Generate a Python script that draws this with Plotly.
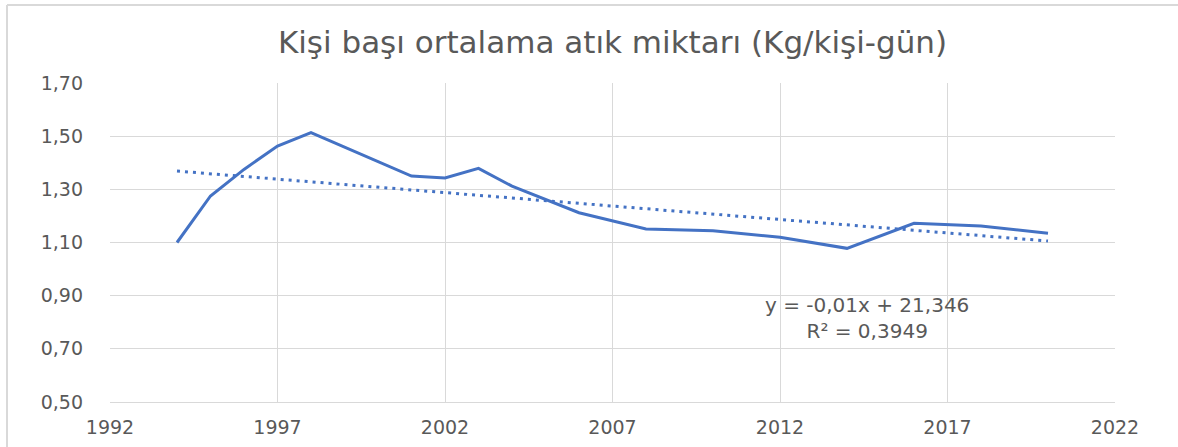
import numpy as np
import plotly.graph_objects as go

# Per-capita municipal waste, kg per person per day
years = [1994, 1995, 1996, 1997, 1998, 2001, 2002, 2003, 2004,
         2006, 2008, 2010, 2012, 2014, 2016, 2018, 2020]
waste = [1.10, 1.275, 1.375, 1.463, 1.513, 1.35, 1.343, 1.379, 1.312,
         1.212, 1.151, 1.144, 1.12, 1.078, 1.172, 1.162, 1.135]

title_text = "Kişi başı ortalama atık miktarı (Kg/kişi-gün)"
equation_text = "y = -0,01x + 21,346<br>R² = 0,3949"

x_ticks = [1992, 1997, 2002, 2007, 2012, 2017, 2022]
y_ticks = [0.50, 0.70, 0.90, 1.10, 1.30, 1.50, 1.70]

BLUE = "#4472C4"
GRID = "#d9d9d9"
TEXT = "#595959"
FONT = "DejaVu Sans"

# Linear trend fitted on the series
slope, intercept = np.polyfit(years, waste, 1)
trend_x = [years[0], years[-1]]
trend_y = [slope * x + intercept for x in trend_x]

fig = go.Figure()
fig.add_trace(go.Scatter(
    x=trend_x, y=trend_y, mode="lines",
    line=dict(color=BLUE, width=3, dash="3px,5px"),
    hoverinfo="skip", showlegend=False,
))
fig.add_trace(go.Scatter(
    x=years, y=waste, mode="lines",
    line=dict(color=BLUE, width=3),
    showlegend=False,
))

fig.add_annotation(
    x=2014.6, y=0.816, xref="x", yref="y",
    text=equation_text, showarrow=False, align="center",
    font=dict(family=FONT, size=20, color=TEXT),
)

# Chart-area frame (top and left edges)
L, R, T, B = 110, 63, 83, 45
W, H = 1178 - L - R, 447 - T - B
fx = lambda px: (px - L) / W
fy = lambda py: (447 - B - py) / H
fig.add_shape(type="line", xref="paper", yref="paper",
              x0=fx(7), x1=fx(1178), y0=fy(5), y1=fy(5),
              line=dict(color=GRID, width=2))
fig.add_shape(type="line", xref="paper", yref="paper",
              x0=fx(7), x1=fx(7), y0=fy(5), y1=fy(447),
              line=dict(color=GRID, width=2))

fig.update_layout(
    width=1178, height=447,
    margin=dict(l=L, r=R, t=T, b=B, autoexpand=False),
    paper_bgcolor="white", plot_bgcolor="white",
    separators=",.",
    title=dict(text=title_text, x=0.5, xref="paper", xanchor="center",
               y=1 - 42 / 447, yanchor="middle",
               font=dict(family=FONT, size=31, color=TEXT)),
    xaxis=dict(
        range=[1992, 2022], tickvals=x_ticks, ticktext=[str(v) for v in x_ticks],
        showgrid=True, gridcolor=GRID, gridwidth=1,
        showline=True, linecolor=GRID, linewidth=1, mirror=False,
        zeroline=False, ticks="", ticklabelstandoff=8, automargin=False,
        tickfont=dict(family=FONT, size=19, color=TEXT),
    ),
    yaxis=dict(
        range=[0.5, 1.7], tickvals=y_ticks, tickformat=".2f",
        showgrid=True, gridcolor=GRID, gridwidth=1,
        showline=False, zeroline=False, ticks="", ticklabelstandoff=26,
        automargin=False,
        tickfont=dict(family=FONT, size=19, color=TEXT),
    ),
)

fig.write_html("out.html")
